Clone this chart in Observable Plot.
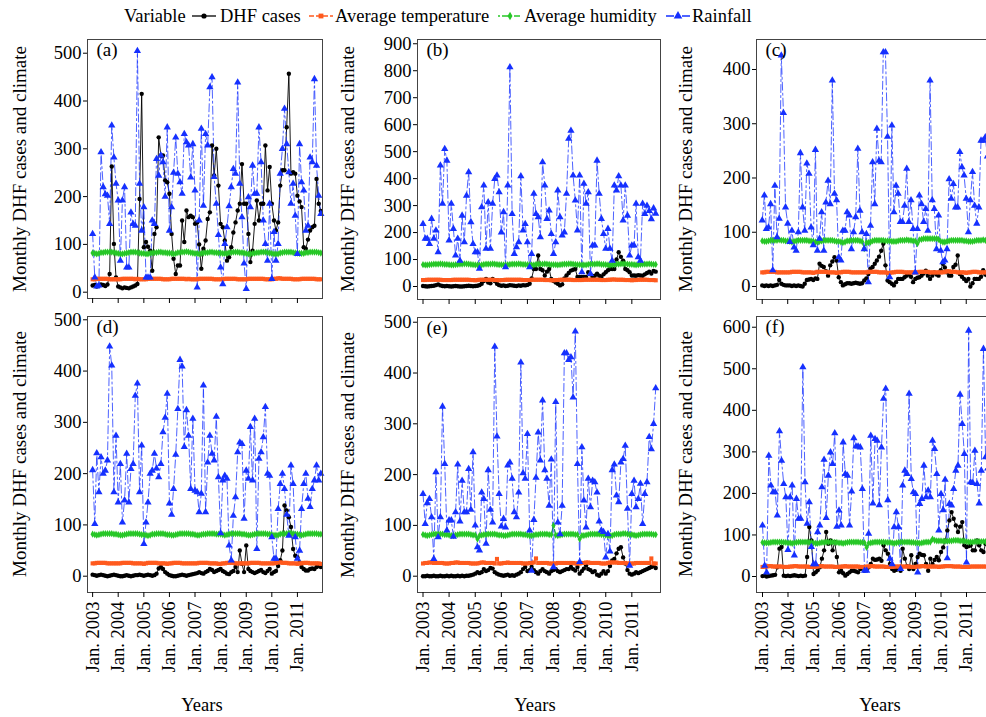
<!DOCTYPE html>
<html>
<head>
<meta charset="utf-8">
<script src="https://cdn.jsdelivr.net/npm/d3@7"></script>
<script src="https://cdn.jsdelivr.net/npm/@observablehq/plot@0.6"></script>
<style>
  html, body { margin: 0; padding: 0; background: #fff; }
  #root { position: relative; width: 986px; height: 717px; overflow: hidden; background: #fff;
          font-family: "Liberation Serif", "Times New Roman", serif; color: #000; }
  .abs { position: absolute; }
  .ytitle { position: absolute; white-space: nowrap; font-size: 19px; transform: translate(-50%, -50%) rotate(-90deg); }
  .xtitle { position: absolute; white-space: nowrap; font-size: 18.5px; transform: translate(-50%, -50%); }
  .leg { position: absolute; white-space: nowrap; font-size: 18.5px; transform: translateY(-50%); }
</style>
</head>
<body>
<div id="root"></div>
<script>
// ---------------- text ----------------
const legendTitle = "Variable";
const seriesNames = ["DHF cases", "Average temperature", "Average humidity", "Rainfall"];
const panelLabels = ["(a)", "(b)", "(c)", "(d)", "(e)", "(f)"];
const yTitle = "Monthly DHF cases and climate";
const xTitle = "Years";
const tickYears = [2003, 2004, 2005, 2006, 2007, 2008, 2009, 2010, 2011];
const tickLabels = ["Jan. 2003", "Jan. 2004", "Jan. 2005", "Jan. 2006", "Jan. 2007", "Jan. 2008", "Jan. 2009", "Jan. 2010", "Jan. 2011"];

// ---------------- data (monthly, Jan 2003 - Dec 2011) ----------------
// Panel (a)
const dhfA = [
  14, 15, 12, 14, 16, 15, 13, 16, 38, 263, 101, 31,
  12, 10, 8, 10, 9, 8, 10, 12, 14, 17, 195, 415,
  94, 105, 95, 87, 45, 122, 136, 324, 286, 286, 234, 230,
  206, 122, 70, 38, 56, 56, 150, 105, 171, 157, 160, 157,
  143, 146, 100, 49, 91, 108, 153, 167, 307, 244, 300, 223,
  143, 136, 108, 66, 73, 94, 125, 146, 171, 185, 268, 185,
  185, 122, 63, 87, 143, 192, 150, 185, 185, 307, 213, 262,
  185, 150, 129, 146, 223, 255, 255, 345, 457, 248, 251, 248,
  202, 190, 178, 94, 91, 110, 129, 136, 139, 237, 185, 170];
const tempA = [
  27, 27, 28, 28, 28, 28, 28, 28, 27, 27, 27, 27,
  27, 27, 28, 28, 28, 28, 28, 28, 27, 28, 27, 27,
  27, 27, 28, 28, 28, 28, 28, 28, 28, 27, 27, 27,
  27, 28, 28, 28, 28, 28, 28, 28, 27, 28, 27, 27,
  27, 27, 28, 28, 28, 28, 28, 28, 28, 27, 27, 27,
  27, 27, 28, 28, 28, 28, 28, 28, 27, 27, 27, 27,
  27, 28, 28, 28, 28, 28, 28, 28, 28, 27, 27, 27,
  27, 28, 28, 29, 29, 28, 28, 28, 28, 28, 27, 27,
  27, 27, 28, 28, 28, 28, 28, 28, 28, 27, 27, 27];
const humA = [
  82, 81, 80, 81, 83, 83, 84, 84, 84, 84, 83, 82,
  81, 80, 80, 81, 82, 83, 84, 84, 84, 83, 82, 81,
  81, 80, 80, 81, 82, 83, 83, 84, 84, 83, 83, 82,
  82, 81, 80, 81, 83, 83, 84, 84, 85, 84, 83, 82,
  81, 81, 80, 81, 82, 83, 83, 84, 84, 83, 83, 82,
  82, 81, 81, 81, 83, 83, 84, 84, 84, 83, 83, 82,
  81, 80, 80, 81, 82, 83, 83, 84, 84, 84, 83, 82,
  81, 80, 80, 80, 82, 83, 84, 84, 84, 84, 83, 82,
  82, 81, 81, 81, 83, 83, 84, 84, 84, 84, 83, 82];
const rainA = [
  122, 31, 12, 14, 293, 220, 205, 202, 143, 349, 282, 227,
  192, 66, 192, 220, 52, 52, 167, 143, 139, 505, 227, 129,
  178, 31, 31, 31, 150, 143, 279, 244, 286, 272, 200, 345,
  129, 178, 250, 324, 248, 230, 206, 331, 314, 307, 240, 310,
  213, 10, 150, 342, 181, 331, 307, 429, 450, 241, 185, 120,
  52, 17, 101, 136, 180, 220, 258, 248, 439, 227, 157, 60,
  7, 199, 178, 265, 206, 206, 345, 272, 150, 101, 66, 185,
  28, 126, 66, 101, 248, 300, 384, 310, 251, 185, 227, 160,
  80, 310, 230, 213, 129, 139, 282, 272, 446, 265, 202, 164];

// Panel (b)
const dhfB = [
  2, 1, 0, 1, 2, 3, 5, 8, 4, 2, 1, 2,
  1, 0, 1, 2, 1, 0, 0, 1, 2, 3, 2, 1,
  2, 3, 5, 10, 20, 28, 15, 12, 28, 20, 10, 5,
  3, 4, 2, 3, 5, 4, 3, 2, 4, 3, 5, 4,
  6, 10, 30, 65, 65, 115, 65, 60, 41, 55, 65, 28,
  20, 15, 10, 4, 8, 30, 41, 50, 59, 62, 65, 35,
  35, 35, 35, 35, 53, 45, 35, 40, 47, 40, 35, 45,
  53, 60, 65, 65, 65, 100, 127, 110, 96, 65, 60, 53,
  41, 41, 40, 42, 41, 40, 45, 50, 55, 48, 58, 55];
const tempB = [
  24, 24, 25, 25, 25, 25, 25, 25, 25, 24, 24, 24,
  24, 24, 25, 25, 25, 25, 25, 25, 25, 25, 24, 24,
  23, 24, 25, 25, 25, 25, 25, 25, 25, 24, 24, 23,
  24, 24, 25, 25, 25, 25, 25, 25, 25, 25, 24, 24,
  24, 24, 25, 25, 25, 25, 25, 25, 24, 24, 24, 23,
  23, 24, 24, 25, 25, 25, 25, 25, 25, 24, 24, 24,
  24, 24, 25, 25, 25, 25, 25, 25, 25, 25, 24, 24,
  24, 25, 25, 26, 26, 25, 25, 25, 25, 24, 24, 24,
  23, 24, 24, 25, 25, 25, 25, 25, 24, 24, 24, 23];
const humB = [
  81, 80, 80, 81, 82, 83, 83, 83, 84, 83, 82, 82,
  81, 80, 80, 81, 82, 83, 83, 84, 84, 83, 82, 81,
  80, 80, 79, 80, 82, 83, 83, 83, 84, 83, 82, 81,
  81, 80, 80, 81, 82, 83, 83, 83, 84, 83, 82, 82,
  81, 80, 80, 80, 82, 83, 83, 83, 84, 83, 82, 81,
  81, 81, 80, 81, 82, 83, 83, 84, 84, 83, 82, 81,
  81, 80, 80, 80, 82, 83, 83, 83, 84, 84, 82, 82,
  81, 80, 79, 80, 81, 83, 83, 84, 84, 84, 83, 82,
  82, 81, 80, 81, 82, 83, 83, 83, 84, 83, 82, 82];
const rainB = [
  232, 177, 177, 158, 251, 177, 208, 127, 449, 307, 510, 467,
  171, 307, 214, 115, 177, 96, 263, 164, 337, 424, 239, 158,
  127, 127, 66, 294, 375, 140, 313, 140, 307, 399, 412, 350,
  201, 276, 72, 375, 813, 269, 121, 146, 164, 409, 208, 232,
  164, 72, 121, 344, 269, 257, 183, 461, 375, 251, 282, 195,
  121, 164, 356, 257, 189, 201, 344, 548, 578, 412, 319, 208,
  412, 53, 381, 307, 350, 47, 152, 152, 467, 344, 251, 195,
  140, 214, 140, 96, 375, 356, 409, 375, 245, 375, 263, 115,
  152, 152, 307, 109, 96, 307, 269, 300, 280, 250, 290, 270];

// Panel (c)
const dhfC = [
  2, 1, 2, 1, 2, 1, 2, 3, 12, 5, 3, 2,
  2, 2, 1, 2, 1, 2, 1, 0, 5, 12, 13, 14,
  12, 15, 14, 42, 38, 36, 28, 20, 39, 46, 54, 48,
  17, 8, 2, 4, 6, 6, 5, 6, 7, 6, 5, 6,
  11, 15, 23, 33, 36, 42, 48, 55, 66, 79, 39, 11,
  8, 5, 2, 8, 14, 14, 14, 17, 20, 23, 18, 8,
  14, 16, 17, 20, 24, 29, 20, 14, 20, 26, 22, 20,
  30, 42, 35, 26, 20, 20, 36, 40, 57, 23, 18, 14,
  10, 14, 0, 6, 14, 14, 14, 18, 30, 22, 20, 22];
const tempC = [
  26, 26, 27, 27, 27, 27, 27, 26, 26, 26, 26, 26,
  26, 26, 27, 27, 27, 27, 27, 26, 26, 26, 26, 26,
  25, 26, 27, 27, 27, 27, 27, 26, 26, 26, 26, 25,
  26, 26, 27, 27, 27, 27, 26, 26, 26, 26, 26, 26,
  26, 26, 27, 27, 27, 27, 27, 26, 26, 26, 26, 25,
  25, 26, 26, 27, 27, 27, 27, 26, 26, 26, 26, 26,
  26, 26, 27, 27, 27, 27, 27, 26, 26, 26, 26, 26,
  26, 26, 27, 28, 28, 27, 27, 27, 26, 26, 26, 26,
  25, 26, 26, 27, 27, 27, 26, 26, 26, 26, 26, 25];
const humC = [
  84, 83, 83, 84, 85, 85, 85, 85, 86, 85, 85, 84,
  84, 83, 82, 83, 84, 85, 85, 85, 85, 85, 84, 84,
  83, 82, 82, 83, 84, 85, 85, 85, 85, 85, 84, 83,
  83, 82, 81, 82, 84, 84, 85, 85, 85, 85, 84, 83,
  70, 81, 81, 82, 84, 85, 85, 85, 85, 85, 84, 84,
  84, 83, 83, 83, 84, 85, 85, 85, 86, 85, 85, 84,
  84, 79, 86, 87, 88, 88, 88, 88, 88, 88, 88, 87,
  83, 82, 82, 83, 84, 85, 85, 85, 85, 85, 85, 84,
  84, 83, 83, 83, 84, 85, 85, 85, 86, 85, 85, 84];
const rainC = [
  122, 168, 106, 109, 152, 30, 186, 91, 125, 426, 320, 146,
  116, 82, 103, 72, 66, 100, 246, 146, 103, 227, 208, 109,
  76, 252, 66, 88, 137, 66, 155, 195, 152, 380, 171, 159,
  54, 48, 103, 103, 137, 131, 69, 100, 128, 254, 140, 100,
  69, 97, 8, 112, 229, 152, 291, 232, 229, 432, 432, 276,
  17, 297, 137, 186, 171, 119, 119, 149, 217, 119, 159, 106,
  26, 106, 168, 152, 119, 143, 103, 380, 159, 143, 69, 131,
  66, 45, 48, 69, 198, 162, 189, 146, 146, 248, 220, 205,
  162, 100, 159, 211, 149, 116, 146, 269, 269, 275, 240, 255];

// Panel (d)
const dhfD = [
  3, 2, 1, 2, 3, 2, 1, 0, 1, 2, 3, 2,
  1, 0, 0, 1, 2, 1, 0, 1, 2, 2, 3, 2,
  1, 2, 3, 2, 1, 2, 5, 15, 18, 14, 8, 5,
  2, 1, 0, 0, 1, 2, 3, 2, 1, 2, 3, 4,
  5, 6, 8, 6, 5, 8, 10, 14, 12, 8, 10, 12,
  14, 10, 8, 5, 4, 8, 10, 18, 8, 50, 24, 8,
  60, 14, 10, 8, 6, 8, 10, 12, 8, 6, 10, 14,
  5, 8, 10, 20, 31, 50, 138, 128, 115, 96, 53, 40,
  37, 27, 18, 14, 11, 11, 14, 15, 14, 18, 20, 18];
const tempD = [
  25, 25, 26, 26, 26, 26, 26, 25, 25, 25, 25, 25,
  25, 25, 26, 26, 26, 26, 26, 25, 25, 25, 25, 25,
  24, 25, 26, 26, 26, 26, 26, 25, 25, 25, 25, 24,
  25, 25, 26, 26, 26, 26, 25, 25, 25, 25, 25, 25,
  25, 25, 26, 26, 26, 26, 26, 25, 25, 25, 25, 24,
  24, 25, 25, 26, 26, 26, 26, 25, 25, 25, 25, 25,
  25, 25, 26, 26, 26, 26, 26, 25, 25, 25, 25, 25,
  25, 25, 26, 27, 27, 26, 26, 26, 25, 25, 25, 25,
  24, 25, 25, 26, 26, 26, 25, 25, 25, 25, 25, 24];
const humD = [
  82, 81, 80, 81, 82, 83, 83, 83, 83, 83, 82, 82,
  81, 80, 80, 81, 82, 83, 83, 83, 83, 83, 82, 81,
  81, 80, 79, 80, 82, 82, 83, 83, 83, 83, 82, 81,
  81, 80, 80, 81, 82, 83, 83, 83, 83, 83, 82, 82,
  81, 80, 80, 81, 82, 82, 83, 83, 83, 83, 82, 82,
  82, 81, 80, 81, 82, 83, 83, 83, 83, 83, 82, 82,
  81, 80, 80, 81, 82, 83, 83, 83, 83, 83, 82, 82,
  81, 80, 80, 80, 82, 83, 83, 83, 84, 84, 83, 82,
  82, 81, 80, 81, 82, 83, 83, 83, 83, 83, 82, 82];
const rainD = [
  207, 102, 240, 164, 232, 200, 206, 226, 448, 411, 164, 274,
  144, 219, 105, 148, 239, 144, 209, 219, 352, 376, 164, 255,
  63, 105, 144, 200, 206, 239, 210, 193, 219, 281, 309, 356,
  142, 120, 170, 237, 326, 422, 409, 252, 324, 274, 170, 307,
  167, 164, 125, 161, 372, 125, 222, 274, 239, 226, 311, 193,
  84, 187, 196, 190, 60, 31, 118, 154, 242, 261, 258, 112,
  206, 190, 291, 187, 307, 53, 229, 242, 271, 330, 200, 196,
  76, 34, 34, 131, 180, 200, 170, 120, 79, 216, 180, 76,
  34, 50, 131, 180, 200, 151, 135, 170, 187, 216, 187, 200];

// Panel (e)
const dhfE = [
  0, 0, 1, 0, 0, 1, 0, 0, 1, 0, 0, 1,
  0, 1, 0, 0, 1, 0, 1, 0, 1, 1, 2, 3,
  5, 8, 6, 8, 14, 10, 12, 16, 15, 8, 5, 3,
  2, 1, 2, 3, 1, 2, 1, 3, 5, 8, 14, 18,
  10, 12, 18, 12, 8, 5, 10, 14, 10, 8, 5, 10,
  12, 14, 10, 8, 10, 12, 14, 14, 18, 14, 11, 18,
  5, 10, 15, 21, 14, 12, 8, 10, 3, 1, 5, 10,
  5, 10, 20, 31, 34, 45, 54, 57, 37, 25, 12, 5,
  3, 5, 8, 6, 8, 10, 12, 14, 16, 18, 20, 16];
const tempE = [
  25, 26, 26, 27, 27, 26, 26, 26, 26, 26, 25, 25,
  25, 26, 26, 27, 27, 26, 26, 26, 26, 26, 25, 25,
  25, 25, 26, 27, 27, 26, 26, 26, 26, 25, 34, 25,
  25, 26, 26, 27, 26, 26, 26, 26, 26, 26, 25, 25,
  25, 26, 26, 27, 35, 26, 26, 26, 26, 26, 25, 25,
  25, 25, 26, 26, 26, 26, 26, 26, 26, 26, 25, 25,
  25, 26, 26, 27, 27, 26, 26, 26, 26, 26, 25, 25,
  25, 26, 27, 27, 27, 27, 26, 26, 26, 26, 25, 25,
  25, 25, 26, 26, 26, 26, 26, 26, 26, 35, 25, 25];
const humE = [
  82, 81, 80, 81, 82, 83, 83, 83, 83, 83, 82, 82,
  81, 80, 80, 81, 82, 83, 83, 83, 83, 83, 82, 81,
  81, 73, 80, 81, 82, 82, 83, 83, 83, 83, 82, 81,
  81, 80, 80, 81, 82, 83, 83, 83, 83, 83, 82, 82,
  81, 80, 80, 81, 82, 82, 83, 83, 83, 83, 82, 82,
  100, 81, 80, 81, 82, 83, 83, 83, 83, 83, 82, 82,
  73, 80, 80, 81, 82, 83, 83, 83, 83, 83, 82, 82,
  81, 80, 80, 80, 82, 83, 83, 83, 84, 84, 83, 82,
  82, 81, 80, 81, 82, 83, 83, 83, 83, 83, 82, 82];
const rainE = [
  162, 103, 144, 152, 116, 34, 205, 77, 116, 334, 221, 90,
  110, 110, 78, 126, 220, 108, 188, 126, 126, 211, 131, 244,
  100, 57, 51, 165, 152, 64, 209, 131, 106, 452, 275, 162,
  98, 113, 96, 218, 224, 192, 126, 116, 165, 421, 203, 192,
  280, 90, 11, 111, 194, 283, 228, 346, 209, 192, 139, 230,
  18, 343, 106, 83, 139, 439, 439, 426, 431, 352, 482, 221,
  28, 254, 149, 96, 192, 136, 188, 185, 165, 108, 90, 87,
  37, 83, 49, 209, 220, 159, 146, 224, 231, 257, 133, 21,
  162, 188, 136, 152, 182, 103, 162, 185, 274, 250, 300, 370];

// Panel (f)
const dhfF = [
  1, 2, 0, 1, 2, 3, 4, 22, 67, 71, 2, 1,
  2, 1, 2, 3, 2, 1, 2, 1, 2, 47, 119, 87,
  6, 10, 15, 22, 43, 63, 107, 79, 87, 63, 83, 47,
  10, 14, 8, 2, 6, 10, 14, 14, 12, 10, 18, 22,
  14, 18, 22, 30, 43, 40, 41, 43, 38, 75, 63, 55,
  30, 18, 14, 16, 18, 14, 67, 43, 25, 18, 51, 18,
  30, 47, 55, 52, 51, 30, 14, 43, 30, 40, 47, 39,
  59, 70, 87, 111, 135, 155, 139, 123, 107, 120, 131, 75,
  71, 73, 75, 63, 63, 87, 75, 63, 59, 79, 80, 75];
const tempF = [
  23, 24, 24, 25, 25, 24, 24, 24, 24, 24, 23, 23,
  23, 24, 24, 25, 25, 24, 24, 24, 24, 24, 23, 23,
  23, 23, 24, 25, 25, 24, 24, 24, 24, 24, 23, 23,
  23, 24, 24, 25, 24, 24, 24, 24, 24, 24, 23, 23,
  23, 24, 24, 25, 25, 24, 24, 24, 24, 24, 23, 23,
  23, 23, 24, 24, 24, 24, 24, 24, 24, 24, 23, 23,
  23, 24, 24, 25, 25, 24, 24, 24, 24, 24, 24, 23,
  24, 24, 25, 25, 25, 25, 24, 24, 24, 24, 23, 23,
  23, 23, 24, 24, 24, 24, 24, 24, 24, 24, 23, 23];
const humF = [
  82, 81, 81, 81, 82, 83, 83, 83, 83, 83, 82, 82,
  81, 81, 80, 81, 82, 83, 83, 83, 83, 83, 82, 82,
  81, 80, 80, 81, 82, 82, 83, 83, 83, 83, 82, 82,
  81, 81, 80, 81, 82, 83, 83, 83, 83, 83, 82, 82,
  81, 70, 80, 81, 82, 83, 83, 83, 83, 83, 82, 82,
  82, 81, 80, 81, 82, 83, 83, 83, 83, 83, 82, 82,
  81, 81, 80, 81, 82, 83, 83, 83, 90, 87, 86, 86,
  86, 85, 85, 85, 86, 86, 87, 87, 87, 86, 86, 85,
  84, 83, 83, 83, 84, 84, 84, 84, 84, 84, 83, 83];
const rainF = [
  123, 26, 10, 291, 219, 203, 203, 147, 350, 279, 223, 191,
  64, 191, 219, 51, 187, 139, 139, 504, 227, 127, 179, 71,
  30, 30, 107, 123, 215, 281, 141, 243, 299, 271, 345, 120,
  159, 123, 323, 247, 243, 123, 205, 333, 313, 313, 311, 211,
  14, 14, 103, 339, 176, 331, 327, 172, 311, 428, 452, 184,
  43, 30, 119, 155, 119, 18, 219, 255, 247, 440, 235, 203,
  199, 10, 175, 187, 267, 191, 207, 191, 327, 307, 247, 111,
  199, 160, 233, 44, 175, 171, 211, 255, 267, 438, 367, 295,
  34, 592, 227, 225, 303, 223, 176, 255, 548, 287, 260, 240];

const panelData = [
  [dhfA, tempA, humA, rainA],
  [dhfB, tempB, humB, rainB],
  [dhfC, tempC, humC, rainC],
  [dhfD, tempD, humD, rainD],
  [dhfE, tempE, humE, rainE],
  [dhfF, tempF, humF, rainF]
];

// ---------------- styles & layout ----------------
const seriesStyles = [
  {color: "#000000", dash: null,      width: 0.9, symbol: "circle",   r: 2.2},
  {color: "#ff5a1e", dash: "5,2",     width: 1.4, symbol: "square",   r: 2.3},
  {color: "#27c727", dash: "2,2,6,2", width: 1.3, symbol: "diamond",  r: 2.2},
  {color: "#1530ff", dash: "8,3,2,3", width: 0.9, symbol: "triangle", r: 2.7}
];

const U = (y, m, d) => new Date(Date.UTC(y, m, d));
const layout = [
  {fl: 87,  ft: 39,  fr: 322, fb: 298, sx: 0,   sy: 28,  xd: [U(2002, 9, 20), U(2011, 11, 25)], yd: [-13.2, 528.7], yt: [0, 100, 200, 300, 400, 500], bottom: false, tx: 20,  ty: 168.5},
  {fl: 417, ft: 39,  fr: 660, fb: 299, sx: 330, sy: 28,  xd: [U(2002, 9, 16), U(2012, 1, 6)],   yd: [-48.2, 915.8], yt: [0, 100, 200, 300, 400, 500, 600, 700, 800, 900], bottom: false, tx: 348, ty: 169},
  {fl: 756, ft: 39,  fr: 994, fb: 299, sx: 670, sy: 28,  xd: [U(2002, 9, 11), U(2012, 1, 10)],  yd: [-24, 455.3],   yt: [0, 100, 200, 300, 400], bottom: false, tx: 686, ty: 169},
  {fl: 87,  ft: 316, fr: 322, fb: 592, sx: 0,   sy: 306, xd: [U(2002, 9, 20), U(2011, 11, 25)], yd: [-31.8, 506.4], yt: [0, 100, 200, 300, 400, 500], bottom: true, tx: 20,  ty: 454, xx: 202},
  {fl: 417, ft: 317, fr: 660, fb: 592, sx: 330, sy: 306, xd: [U(2002, 9, 16), U(2012, 1, 6)],   yd: [-32.1, 509.3], yt: [0, 100, 200, 300, 400, 500], bottom: true, tx: 348, ty: 454.5, xx: 535},
  {fl: 756, ft: 316, fr: 994, fb: 592, sx: 670, sy: 306, xd: [U(2002, 9, 7),  U(2012, 1, 6)],   yd: [-38.5, 625.8], yt: [0, 100, 200, 300, 400, 500, 600], bottom: true, tx: 686, ty: 454, xx: 880}
];

const root = document.getElementById("root");
const dates = d3.utcMonths(U(2003, 0, 1), U(2012, 0, 1));
const tickDates = tickYears.map(y => U(y, 0, 1));
const keys = ["dhf", "temp", "hum", "rain"];

layout.forEach((L, pi) => {
  const arrs = panelData[pi];
  const rows = dates.map((d, i) => ({date: d, dhf: arrs[0][i], temp: arrs[1][i], hum: arrs[2][i], rain: arrs[3][i]}));
  const mr = 6, mb = L.bottom ? 110 : 10;
  const width = L.fr + mr - L.sx;
  const height = L.fb + mb - L.sy;
  const marks = [];
  keys.forEach((k, si) => {
    const s = seriesStyles[si];
    marks.push(Plot.line(rows, {x: "date", y: k, stroke: s.color, strokeWidth: s.width, strokeDasharray: s.dash || undefined, strokeOpacity: si === 3 ? 0.85 : 1}));
  });
  keys.forEach((k, si) => {
    const s = seriesStyles[si];
    marks.push(Plot.dot(rows, {x: "date", y: k, symbol: s.symbol, r: s.r, fill: s.color, stroke: "none"}));
  });
  marks.push(Plot.frame({stroke: "#444", strokeWidth: 1}));
  marks.push(Plot.axisY({ticks: L.yt, tickSize: 4, tickPadding: 2, label: null, tickFormat: d => String(d)}));
  if (L.bottom) {
    marks.push(Plot.axisX({ticks: tickDates, tickSize: 5, tickPadding: 4, tickRotate: -90, label: null,
      tickFormat: d => tickLabels[tickYears.indexOf(d.getUTCFullYear())]}));
  } else {
    marks.push(Plot.axisX({ticks: tickDates, tickSize: 5, label: null, tickFormat: () => ""}));
  }
  marks.push(Plot.text([panelLabels[pi]], {frameAnchor: "top-left", dx: 9, dy: 3, fontSize: 19, text: d => d}));

  const chart = Plot.plot({
    width, height,
    marginLeft: L.fl - L.sx, marginTop: L.ft - L.sy, marginRight: mr, marginBottom: mb,
    x: {type: "utc", domain: L.xd},
    y: {domain: L.yd},
    style: {background: "transparent", fontFamily: "'Liberation Serif', 'Times New Roman', serif", fontSize: "18.5px", overflow: "visible", maxWidth: "none", color: "#000"},
    marks
  });
  const wrap = document.createElement("div");
  wrap.className = "abs";
  wrap.style.left = L.sx + "px";
  wrap.style.top = L.sy + "px";
  wrap.style.width = width + "px";
  wrap.style.height = height + "px";
  wrap.appendChild(chart);
  root.appendChild(wrap);

  const yt = document.createElement("div");
  yt.className = "ytitle";
  yt.style.left = L.tx + "px";
  yt.style.top = L.ty + "px";
  yt.textContent = yTitle;
  root.appendChild(yt);

  if (L.bottom) {
    const xt = document.createElement("div");
    xt.className = "xtitle";
    xt.style.left = L.xx + "px";
    xt.style.top = "705px";
    xt.textContent = xTitle;
    root.appendChild(xt);
  }
});

// ---------------- legend ----------------
const legY = 16;
const lt = document.createElement("div");
lt.className = "leg";
lt.style.left = "124px";
lt.style.top = legY + "px";
lt.textContent = legendTitle;
root.appendChild(lt);

const keyLeft = [191, 308, 497, 665];
const textLeft = [220, 335, 524, 692];
const typeMap = {circle: d3.symbolCircle, square: d3.symbolSquare, diamond: d3.symbolDiamond, triangle: d3.symbolTriangle};
seriesNames.forEach((name, si) => {
  const s = seriesStyles[si];
  const sw = 26, sh = 16;
  const svg = d3.create("svg").attr("width", sw).attr("height", sh)
    .style("position", "absolute").style("left", keyLeft[si] + "px").style("top", (legY - sh / 2) + "px");
  svg.append("line").attr("x1", 1).attr("x2", sw - 1).attr("y1", sh / 2).attr("y2", sh / 2)
    .attr("stroke", s.color).attr("stroke-width", 1.3).attr("stroke-dasharray", s.dash || null);
  svg.append("path").attr("transform", `translate(${sw / 2},${sh / 2})`)
    .attr("d", d3.symbol(typeMap[s.symbol], s.r * s.r * Math.PI * 1.4)())
    .attr("fill", s.color);
  root.appendChild(svg.node());
  const t = document.createElement("div");
  t.className = "leg";
  t.style.left = textLeft[si] + "px";
  t.style.top = legY + "px";
  t.textContent = name;
  root.appendChild(t);
});
</script>
</body>
</html>
